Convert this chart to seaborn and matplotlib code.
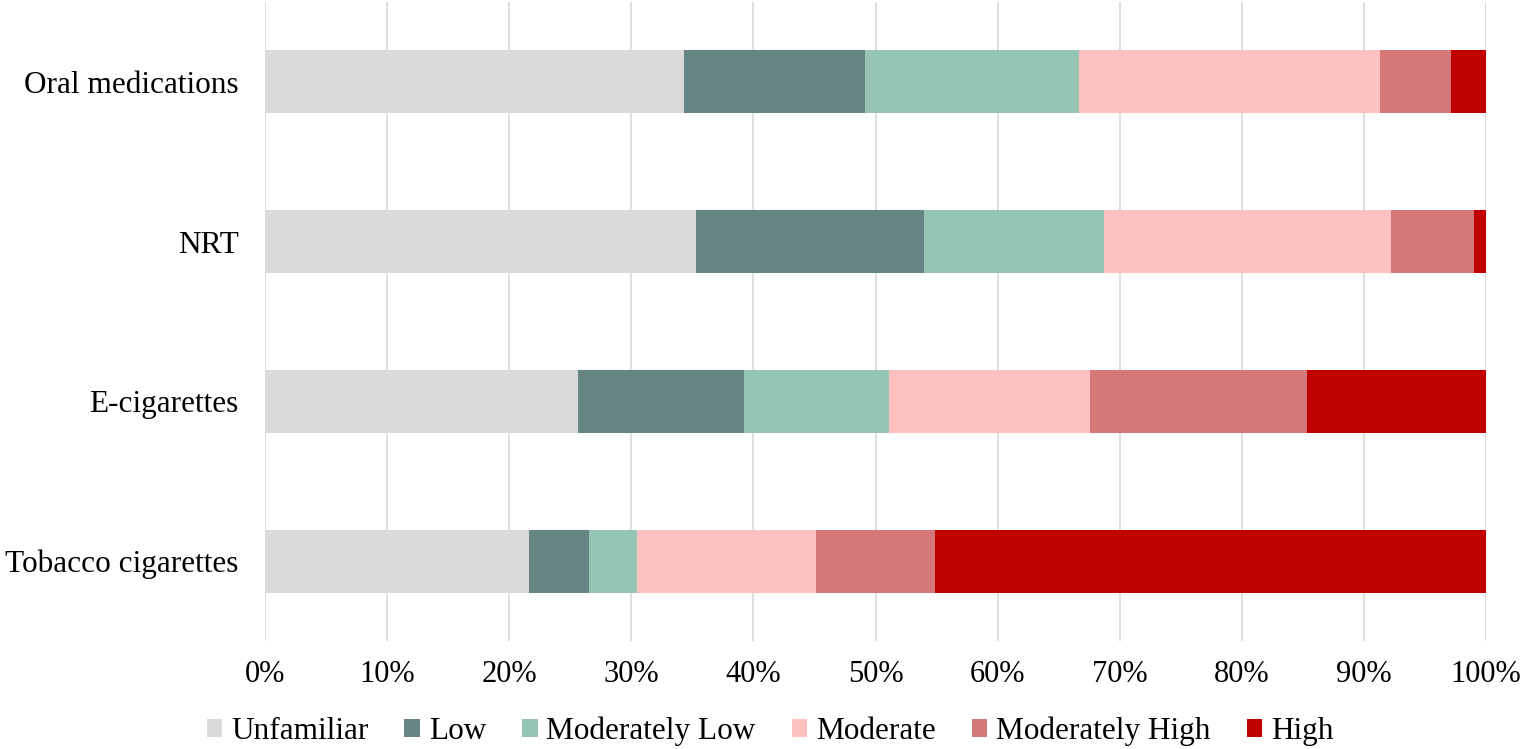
import matplotlib
matplotlib.use("Agg")
import matplotlib.pyplot as plt
import seaborn as sns
import pandas as pd
import numpy as np
from matplotlib.patches import Patch

categories = ["Oral medications", "NRT", "E-cigarettes", "Tobacco cigarettes"]
levels = ["Unfamiliar", "Low", "Moderately Low", "Moderate", "Moderately High", "High"]
unfamiliar = [34.3, 35.3, 25.6, 21.6]
low = [14.8, 18.7, 13.6, 4.9]
mod_low = [17.6, 14.7, 11.9, 4.0]
moderate = [24.6, 23.5, 16.5, 14.6]
mod_high = [5.8, 6.8, 17.7, 9.8]
high = [2.9, 1.0, 14.7, 45.1]
colors = ["#D9D9D9", "#668482", "#96C4B5", "#FEC0C0", "#D47878", "#C00000"]
xticks = [0, 10, 20, 30, 40, 50, 60, 70, 80, 90, 100]

sns.set_theme(style="white")
plt.rcParams["font.family"] = ["Liberation Serif", "DejaVu Serif"]
plt.rcParams["text.color"] = "black"
plt.rcParams["xtick.color"] = "black"
plt.rcParams["ytick.color"] = "black"

series = [unfamiliar, low, mod_low, moderate, mod_high, high]
vals = np.array(series)
total = vals.sum(axis=0)
vals = vals / total * 100
cum = np.cumsum(vals, axis=0)

fig = plt.figure(figsize=(15.23, 7.49), dpi=100)
ax = fig.add_axes([265/1523, 1-641/749, (1486-265)/1523, 639/749])

for i in range(len(levels)-1, -1, -1):
    df = pd.DataFrame({"cat": categories, "val": cum[i]})
    sns.barplot(data=df, y="cat", x="val", orient="h", order=categories,
                color=colors[i], saturation=1, width=0.395, ax=ax,
                edgecolor="none", linewidth=0, zorder=3)

ax.set_xlim(0, 100)
ax.set_ylim(3.5, -0.5)
ax.set_xticks(xticks)
ax.set_xticklabels([f"{t}%" for t in xticks], fontsize=22)
ax.tick_params(axis="x", pad=14, length=0)
ax.tick_params(axis="y", pad=19, length=0, labelsize=22.5)
ax.set_xlabel("")
ax.set_ylabel("")
ax.grid(axis="x", color="#D9D9D9", linewidth=1.2, zorder=0)
ax.set_axisbelow(True)
for s in ax.spines.values():
    s.set_visible(False)

handles = [Patch(facecolor=c, edgecolor="none", label=l) for c, l in zip(colors, levels)]
fig.legend(handles=handles, loc="center", bbox_to_anchor=(770/1523, 1-731/749), ncol=6,
           frameon=False, fontsize=22.5, handlelength=0.5, handleheight=0.5,
           handletextpad=0.28, columnspacing=1.15, borderpad=0)

fig.savefig("out.png", dpi=100)
